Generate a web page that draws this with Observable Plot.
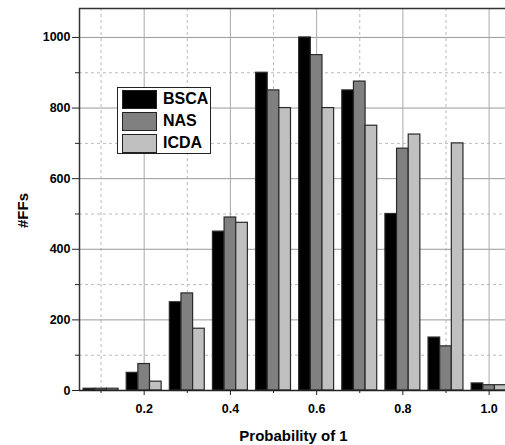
<!DOCTYPE html>
<html><head><meta charset="utf-8">
<script src="https://cdn.jsdelivr.net/npm/d3@7"></script>
<script src="https://cdn.jsdelivr.net/npm/@observablehq/plot@0.6"></script>
<style>
body{margin:0;background:#fff;}
#wrap{position:relative;width:505px;height:445px;overflow:hidden;font-family:"Liberation Sans",Arial,sans-serif;}
#legend{position:absolute;left:117px;top:87px;width:92px;height:65px;border:1.5px solid #222;background:#fff;}
.row{position:absolute;left:4px;height:19px;width:88px;}
.sw{position:absolute;left:0;top:0;width:33px;height:17px;border:1px solid #222;}
.lb{position:absolute;left:41px;top:-1px;font-weight:bold;font-size:16px;line-height:19px;color:#000;}
</style></head><body><div id="wrap"></div>
<script>
const groups = [0.1, 0.2, 0.3, 0.4, 0.5, 0.6, 0.7, 0.8, 0.9, 1.0];
const seriesNames = ["BSCA", "NAS", "ICDA"];
const BSCA = [5, 50, 250, 450, 900, 1000, 850, 500, 150, 20];
const NAS  = [5, 75, 275, 490, 850, 950, 875, 685, 125, 15];
const ICDA = [5, 25, 175, 475, 800, 800, 750, 725, 700, 15];
const colors = ["#000000", "#808080", "#c0c0c0"];
const xTicks = [0.2, 0.4, 0.6, 0.8, 1.0];
const xMinor = [0.1, 0.3, 0.5, 0.7, 0.9];
const yTicks = [0, 200, 400, 600, 800, 1000];
const yMinor = [100, 300, 500, 700, 900];
const xDomain = [0.05, 1.038];
const yDomain = [0, 1082];
const barW = 0.027;

const seriesVals = [BSCA, NAS, ICDA];
const data = [];
seriesNames.forEach((s, i) => {
  groups.forEach((g, j) => data.push({series: s, g, i, v: seriesVals[i][j]}));
});

const font = '"Liberation Sans", Arial, sans-serif';
const chart = Plot.plot({
  width: 505, height: 445,
  marginLeft: 79, marginRight: 0, marginTop: 8, marginBottom: 55,
  x: {domain: xDomain},
  y: {domain: yDomain},
  color: {domain: seriesNames, range: colors},
  style: {fontFamily: font, fontWeight: "bold", fontSize: "12px", color: "#000", background: "#fff", overflow: "visible"},
  marks: [
    Plot.gridY(yMinor, {stroke: "#bbb", strokeOpacity: 1, strokeDasharray: "3,3"}),
    Plot.gridX(xMinor, {stroke: "#bbb", strokeOpacity: 1, strokeDasharray: "3,3"}),
    Plot.gridY(yTicks.slice(1), {stroke: "#999", strokeOpacity: 1}),
    Plot.gridX(xTicks, {stroke: "#aaa", strokeOpacity: 1}),
    Plot.rect(data, {
      x1: d => d.g + (d.i - 1.5) * barW,
      x2: d => d.g + (d.i - 0.5) * barW,
      y1: 0, y2: "v",
      fill: "series", stroke: "#2a2a2a", strokeWidth: 1.2
    }),
    Plot.axisY(yTicks, {tickSize: 7, tickPadding: 2, label: null, tickFormat: d3.format("d"), fontSize: 12.5, fontWeight: "bold", fill: "#000", stroke: "#222"}),
    Plot.axisY(yMinor, {tickSize: 4, text: null, label: null, stroke: "#222"}),
    Plot.axisX(xTicks, {tickSize: 5, tickPadding: 9, label: null, tickFormat: d3.format(".1f"), fontSize: 12.5, fontWeight: "bold", fill: "#000", stroke: "#222"}),
    Plot.axisX(xMinor, {tickSize: 3, text: null, label: null, stroke: "#222"}),
    Plot.ruleY([yDomain[0]], {stroke: "#222", strokeWidth: 1.5}),
    Plot.ruleY([yDomain[1]], {stroke: "#333", strokeWidth: 1.5}),
    Plot.ruleX([xDomain[0]], {stroke: "#333", strokeWidth: 1.5}),
    Plot.text(["#FFs"], {frameAnchor: "left", dx: -56, dy: 11, rotate: -90, fontSize: 15, fontWeight: "bold", fill: "#000", textAnchor: "middle", lineAnchor: "middle"}),
    Plot.text(["Probability of 1"], {frameAnchor: "bottom", dx: 1, dy: 46, fontSize: 15, fontWeight: "bold", fill: "#000", textAnchor: "middle", lineAnchor: "middle"})
  ]
});
const wrap = document.getElementById("wrap");
wrap.appendChild(chart);

const legend = document.createElement("div");
legend.id = "legend";
seriesNames.forEach((s, i) => {
  const row = document.createElement("div");
  row.className = "row";
  row.style.top = (2 + i * 22) + "px";
  const sw = document.createElement("div");
  sw.className = "sw";
  sw.style.background = colors[i];
  const lb = document.createElement("div");
  lb.className = "lb";
  lb.textContent = s;
  row.appendChild(sw); row.appendChild(lb);
  legend.appendChild(row);
});
wrap.appendChild(legend);
</script></body></html>
